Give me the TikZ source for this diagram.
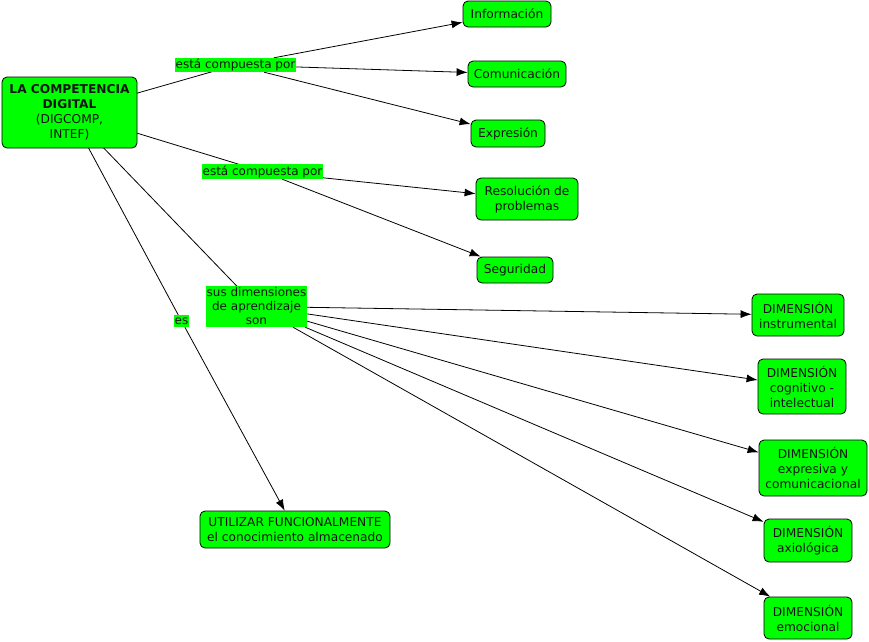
\documentclass[tikz,border=0pt]{standalone}
\usepackage{fontspec}
\setmainfont{DejaVu Sans}
\usetikzlibrary{arrows.meta,positioning,backgrounds}
\definecolor{my_green}{RGB}{0, 255, 0}
\definecolor{my_text}{RGB}{20, 20, 20}
\tikzset{
  concepto/.style = {draw=black, line width=0.8pt, fill=my_green, rounded corners=5pt,
  align=center, inner sep=0pt, text=my_text, font=\fontsize{12.2}{15}\selectfont},
  enlace/.style = {draw=none, fill=my_green, align=center, inner sep=0.5pt, text=my_text,
  font=\fontsize{12}{14}\selectfont},
  conector/.style = {draw=black, line width=0.8pt}
}

\begin{document}
\begin{tikzpicture}[x=1pt, y=-1pt, >={Latex[length=11pt,width=8pt]}]
  \useasboundingbox (0,0) rectangle (869,641);
  % conceptos
  \node [concepto, minimum width=135pt, minimum height=71pt] (comp) at (69.5,112.5)
    {\textbf{LA COMPETENCIA}\\ \textbf{DIGITAL}\\ (DIGCOMP,\\ INTEF)};
  \node [concepto, minimum width=88pt, minimum height=26pt] (info) at (507,14) {Información};
  \node [concepto, minimum width=98pt, minimum height=26pt] (comu) at (517,74) {Comunicación};
  \node [concepto, minimum width=74pt, minimum height=27pt] (expr) at (508,133.5) {Expresión};
  \node [concepto, minimum width=102pt, minimum height=42pt] (reso) at (527,199) {Resolución de\\ problemas};
  \node [concepto, minimum width=76pt, minimum height=26pt] (segu) at (515,270) {Seguridad};
  \node [concepto, minimum width=92pt, minimum height=42pt] (d_inst) at (798,315) {DIMENSIÓN\\ instrumental};
  \node [concepto, minimum width=88pt, minimum height=55pt] (d_cogn) at (802,386.5) {DIMENSIÓN\\ cognitivo -\\ intelectual};
  \node [concepto, minimum width=108pt, minimum height=56pt] (d_expr) at (813,468) {DIMENSIÓN\\ expresiva y\\ comunicacional};
  \node [concepto, minimum width=88pt, minimum height=43pt] (d_axio) at (808,540.5) {DIMENSIÓN\\ axiológica};
  \node [concepto, minimum width=88pt, minimum height=42pt] (d_emoc) at (808,618) {DIMENSIÓN\\ emocional};
  \node [concepto, minimum width=190pt, minimum height=37pt] (util) at (295,529.5) {UTILIZAR FUNCIONALMENTE\\ el conocimiento almacenado};
  % frases de enlace
  \node [enlace, minimum width=121pt, minimum height=14pt] (enl_1) at (235.5,65) {está compuesta por};
  \node [enlace, minimum width=121pt, minimum height=15pt] (enl_2) at (262.5,171.5) {está compuesta por};
  \node [enlace, minimum width=101pt, minimum height=41pt] (enl_3) at (256.5,306.5) {sus dimensiones\\ de aprendizaje\\ son};
  \node [enlace, minimum width=15pt, minimum height=12pt] (enl_4) at (181.5,321) {es};
  % conectores
  \begin{pgfonlayer}{background}
    \draw [conector] (comp.center) -- (enl_1.center);
    \draw [conector, ->] (enl_1) -- (info);
    \draw [conector, ->] (enl_1) -- (comu);
    \draw [conector, ->] (enl_1) -- (expr);
    \draw [conector] (comp.center) -- (enl_2.center);
    \draw [conector, ->] (enl_2) -- (reso);
    \draw [conector, ->] (enl_2) -- (segu);
    \draw [conector] (comp.center) -- (enl_3.center);
    \foreach \d in {d_inst, d_cogn, d_expr, d_axio, d_emoc}
      \draw [conector, ->] (enl_3) -- (\d);
    \draw [conector] (comp.center) -- (enl_4.center);
    \draw [conector, ->] (enl_4) -- (util);
  \end{pgfonlayer}
\end{tikzpicture}
\end{document}
